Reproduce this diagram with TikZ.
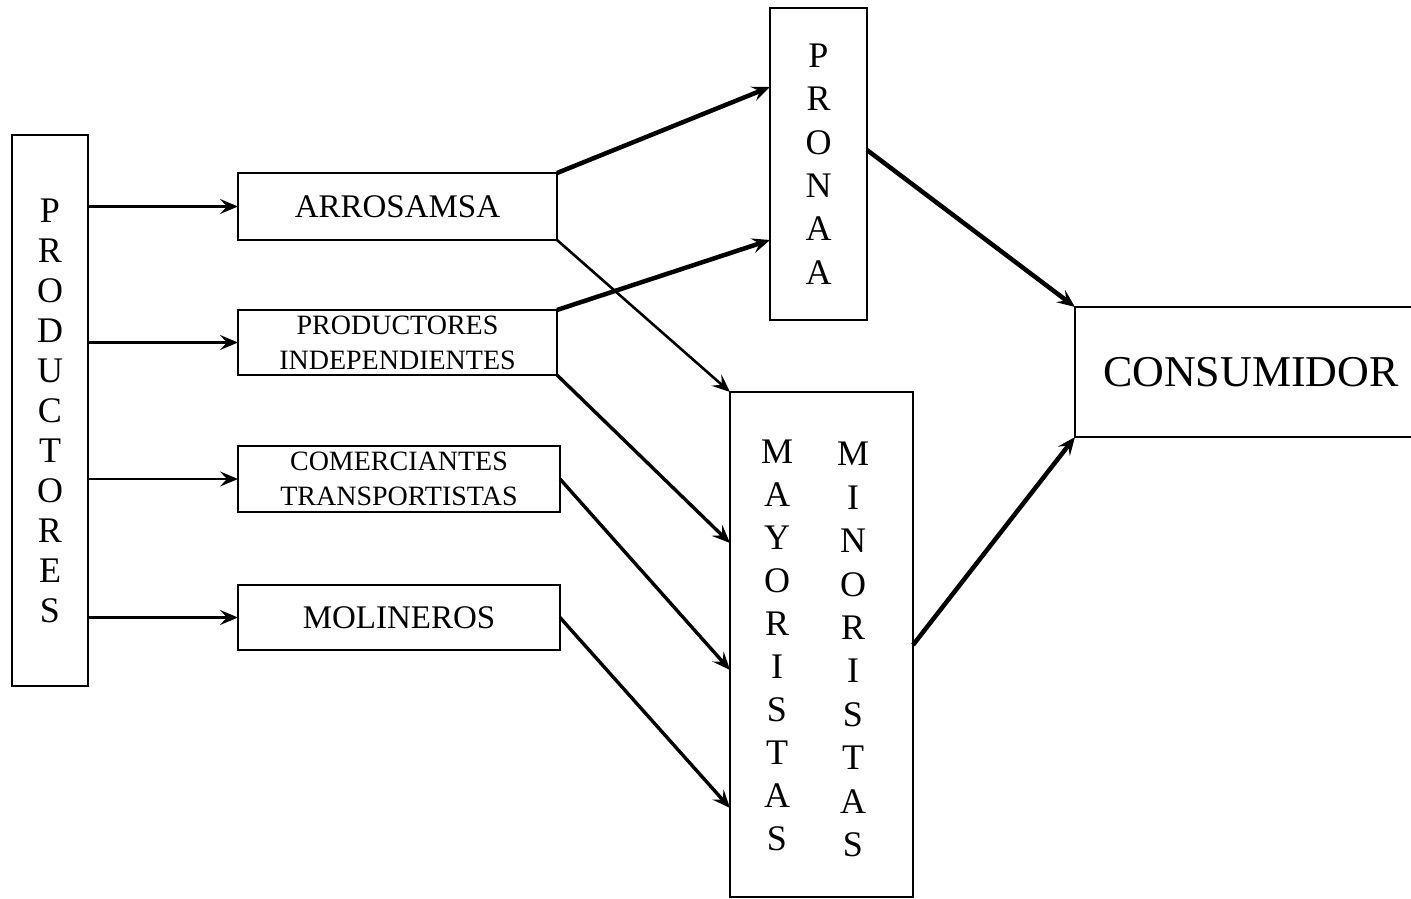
\documentclass[tikz,border=0pt]{standalone}
\usepackage{fontspec}
\setmainfont{Liberation Serif}
\usetikzlibrary{arrows.meta}
\begin{document}
\begin{tikzpicture}[x=1pt,y=-1pt,
  box/.style={draw, line width=2.5pt, inner sep=0pt, outer sep=0pt},
  vlet/.style={align=center, font=\fontsize{36}{#1}\selectfont},
  conn/.style={-{Stealth[length=18pt,width=15pt,inset=7pt]}, line width=#1},
  conn/.default=2.8pt]
\useasboundingbox (0,0) rectangle (1411,899);
% boxes
\node[box, minimum width=76pt, minimum height=551pt, vlet=40] (prod) at (50,410.5)
  {P\\R\\O\\D\\U\\C\\T\\O\\R\\E\\S};
\node[box, minimum width=319pt, minimum height=67pt, font=\fontsize{33}{38}\selectfont] (arro) at (397.5,206.5) {ARROSAMSA};
\node[box, minimum width=319pt, minimum height=65pt, align=center, font=\fontsize{28}{35}\selectfont] (indep) at (397.5,342.5) {PRODUCTORES\\INDEPENDIENTES};
\node[box, minimum width=322pt, minimum height=66pt, align=center, font=\fontsize{28}{35}\selectfont] (comer) at (399,479) {COMERCIANTES\\TRANSPORTISTAS};
\node[box, minimum width=322pt, minimum height=65pt, font=\fontsize{33}{38}\selectfont] (moli) at (399,617.5) {MOLINEROS};
\node[box, minimum width=97pt, minimum height=312pt, vlet=43.4] (pronaa) at (818.5,164) {P\\R\\O\\N\\A\\A};
\node[box, minimum width=183pt, minimum height=505pt] (may) at (821.5,644.5) {};
\node[vlet=43] (mayt) at (777,645) {M\\A\\Y\\O\\R\\I\\S\\T\\A\\S};
\node[vlet=43.4] (mint) at (853,649.5) {M\\I\\N\\O\\R\\I\\S\\T\\A\\S};
\node[inner sep=0pt, outer sep=0pt, minimum width=336pt, minimum height=130pt, font=\fontsize{44}{50}\selectfont] (cons) at (1243,372) {\hspace*{16pt}CONSUMIDOR};
\draw[line width=2.5pt] (cons.north east) -- (cons.north west) -- (cons.south west) -- (cons.south east);
% connectors
\draw[conn] (arro.west -| prod.east) -- (arro.west);
\draw[conn] (indep.west -| prod.east) -- (indep.west);
\draw[conn] (comer.west -| prod.east) -- (comer.west);
\draw[conn] (moli.west -| prod.east) -- (moli.west);
\draw[conn=4.5pt] (arro.north east) -- ([yshift=-79pt]pronaa.north west);
\draw[conn=2.6pt] (arro.south east) -- (may.north west);
\draw[conn=4.5pt] (indep.north east) -- ([yshift=-232pt]pronaa.north west);
\draw[conn=3.4pt] (indep.south east) -- ([yshift=-151pt]may.north west);
\draw[conn=3.4pt] (comer.east) -- ([yshift=-278pt]may.north west);
\draw[conn=3.4pt] (moli.east) -- ([yshift=-416pt]may.north west);
\draw[conn=4.5pt] ([yshift=-142pt]pronaa.north east) -- (cons.north west);
\draw[conn=4.5pt] ([yshift=-253pt]may.north east) -- (cons.south west);
\end{tikzpicture}
\end{document}
